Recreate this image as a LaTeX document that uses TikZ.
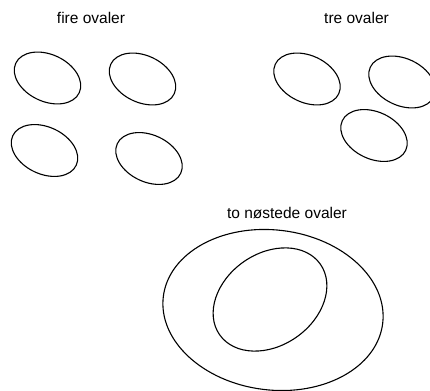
\documentclass[tikz,border=0pt]{standalone}
\usepackage{fontspec}
\setmainfont{Liberation Sans}
\begin{document}
\begin{tikzpicture}[x=1pt,y=1pt,
  oval/.style={draw=black,line width=1.1pt},
  label/.style={font=\fontsize{15.5}{18}\selectfont,inner sep=0pt,anchor=base}]
\useasboundingbox (0,0) rectangle (430,390);
\clip (0,0) rectangle (430,390);
% titles
\node[label] (fire) at (91,366) {fire ovaler};
\node[label] (tre) at (356.5,366) {tre ovaler};
\node[label] (to) at (287,171) {to nøstede ovaler};
% fire ovaler
\draw[oval,rotate around={-25:(47.5,312)}] (47.5,312) ellipse [x radius=35,y radius=23.5];
\draw[oval,rotate around={-25:(142.5,311)}] (142.5,311) ellipse [x radius=35,y radius=23.5];
\draw[oval,rotate around={-25:(44.5,239.5)}] (44.5,239.5) ellipse [x radius=35,y radius=23.5];
\draw[oval,rotate around={-25:(149,231.5)}] (149,231.5) ellipse [x radius=35,y radius=23.5];
% tre ovaler
\draw[oval,rotate around={-25:(307,311)}] (307,311) ellipse [x radius=35,y radius=23.5];
\draw[oval,rotate around={-25:(402,308)}] (402,308) ellipse [x radius=35,y radius=23.5];
\draw[oval,rotate around={-25:(374,254.5)}] (374,254.5) ellipse [x radius=35,y radius=23.5];
% to nostede ovaler
\draw[oval,rotate around={-7:(273,80)}] (273,80) ellipse [x radius=110.5,y radius=80];
\draw[oval,rotate around={35:(270,90.5)}] (270,90.5) ellipse [x radius=61.5,y radius=46];
\end{tikzpicture}
\end{document}
